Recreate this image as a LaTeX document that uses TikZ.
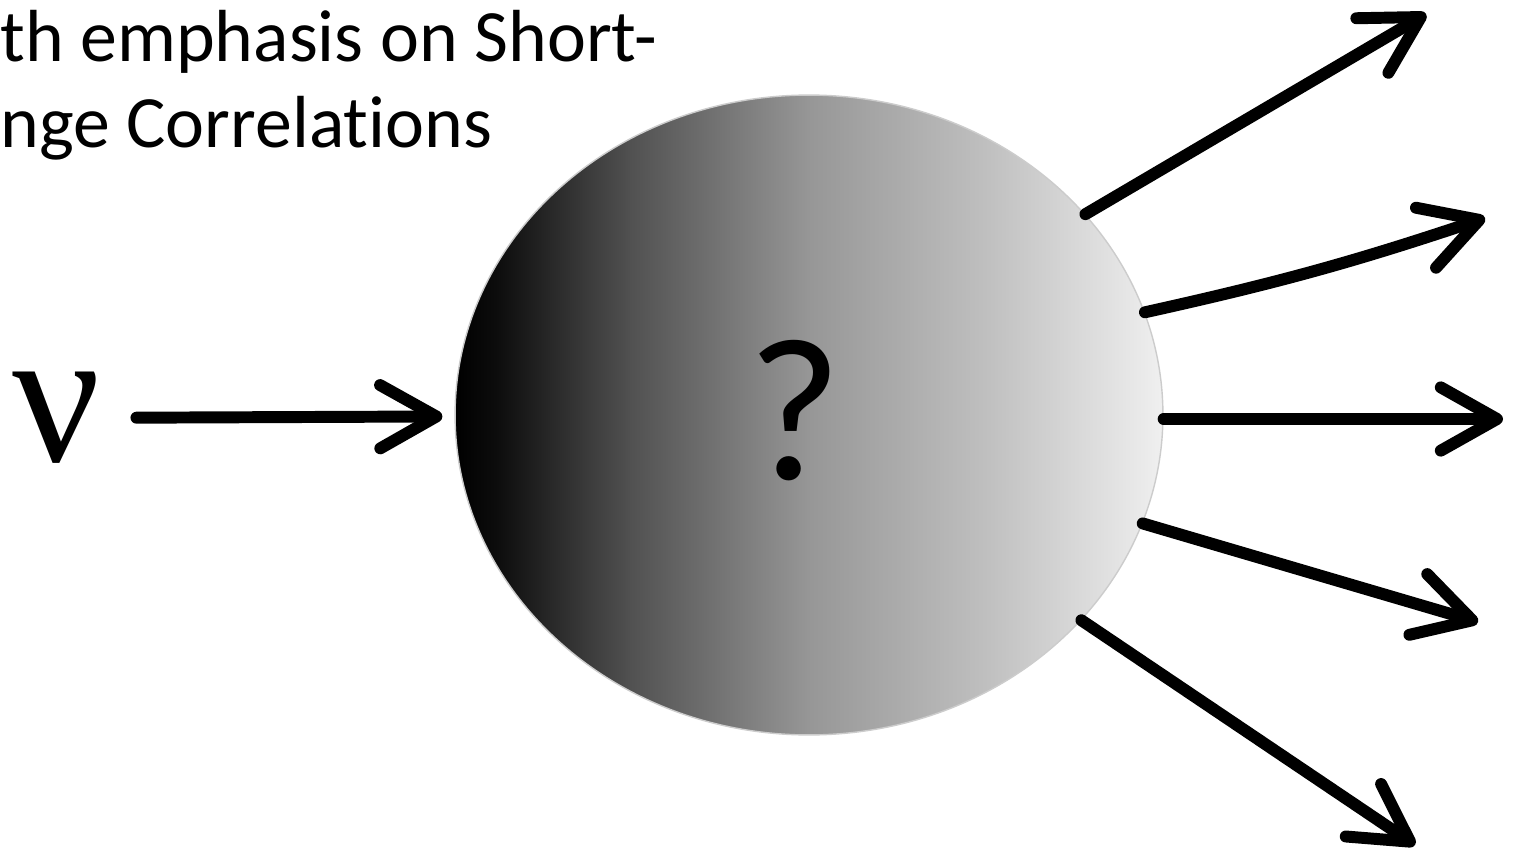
\documentclass[tikz,border=0pt]{standalone}
\usepackage{fontspec}
\setmainfont{Carlito}[Ligatures={NoCommon}]
\newfontfamily\nufont{Liberation Serif}
\usetikzlibrary{arrows.meta,shapes.geometric}
\pgfdeclarehorizontalshading{ballshade}{100bp}{color(0bp)=(black); color(25bp)=(black); color(28bp)=(black!95); color(37.5bp)=(black!68); color(50bp)=(black!41); color(62.5bp)=(black!25); color(75bp)=(black!6); color(100bp)=(black!6)}
\begin{document}
\begin{tikzpicture}[x=0.02cm,y=-0.02cm,
  arr/.style={line width=6.8pt, line cap=round,
    -{Straight Barb[length=32pt,width=36pt,line cap=round,line join=round]}},
  ballstyle/.style={ellipse, minimum width=14.16cm, minimum height=12.8cm,
    inner sep=0pt, shading=ballshade, draw=black!20, line width=0.8pt},
  headline/.style={anchor=base west, inner sep=0pt,
    font=\fontsize{42pt}{50pt}\selectfont}]
\useasboundingbox[fill=white] (0,0) rectangle (1515,855);
% title text (cut off at the left)
\node[headline] (t1) at (0,62) {th emphasis on Short-};
\node[headline] (t2) at (0,148) {nge Correlations};
% the ball
\node[ballstyle] (ball) at (809,415) {};
\node[inner sep=0pt, font=\fontsize{116pt}{116pt}\selectfont] (q) at (795,411) {?};
% incoming neutrino
\node[inner sep=0pt, font=\nufont\fontsize{111pt}{111pt}\selectfont] (nu) at (57,418) {ν};
\draw[arr, shorten <=0.7cm, shorten >=0.24cm] (nu) -- (ball);
% outgoing particles
\coordinate (e1) at (1426,14);
\coordinate (e2) at (1485,218);
\coordinate (e3) at (1503,419);
\coordinate (e4) at (1478,622);
\coordinate (e5) at (1415,845);
\draw[arr] (ball.36) -- (e1);
\draw[arr] (ball.17) to[bend right=3] (e2);
\draw[arr] (ball.east |- e3) -- (e3);
\draw[arr] (ball.-18) -- (e4);
\draw[arr] (ball.-37) -- (e5);
\end{tikzpicture}
\end{document}
